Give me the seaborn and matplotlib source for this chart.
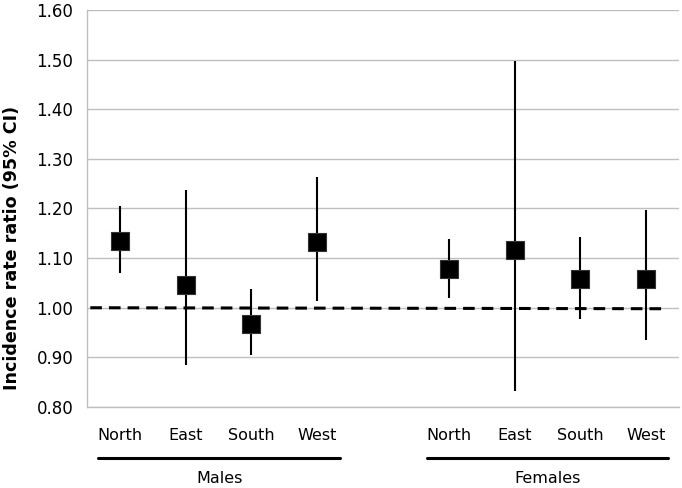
import numpy as np
import pandas as pd
import matplotlib
matplotlib.use("Agg")
import matplotlib.pyplot as plt
import matplotlib.transforms as mtransforms
import seaborn as sns

# ---- data ----
regions = ["North", "East", "South", "West"]
groups = ["Males", "Females"]
males_irr = [1.135, 1.045, 0.968, 1.133]
males_lo = [1.070, 0.885, 0.905, 1.014]
males_hi = [1.205, 1.237, 1.037, 1.264]
females_irr = [1.078, 1.117, 1.057, 1.057]
females_lo = [1.020, 0.833, 0.977, 0.934]
females_hi = [1.138, 1.498, 1.142, 1.197]
ref_value = 1.0
y_ticks = [0.80, 0.90, 1.00, 1.10, 1.20, 1.30, 1.40, 1.50, 1.60]

# positions: 4 male slots, one empty gap, 4 female slots
pos = list(range(4)) + list(range(5, 9))
df = pd.DataFrame({
    "pos": pos,
    "region": regions + regions,
    "group": ["Males"] * 4 + ["Females"] * 4,
    "irr": males_irr + females_irr,
    "lo": males_lo + females_lo,
    "hi": males_hi + females_hi,
})

sns.set_style("white")
plt.rcParams["font.family"] = ["DejaVu Sans"]
plt.rcParams["text.color"] = "black"
plt.rcParams["xtick.labelcolor"] = "black"
plt.rcParams["ytick.labelcolor"] = "black"
plt.rcParams["axes.labelcolor"] = "black"

fig = plt.figure(figsize=(6.82, 4.88), dpi=100)
ax = fig.add_axes([0.1276, 0.166, 0.868, 0.8135])

# gridlines
for yv in y_ticks:
    ax.axhline(yv, color="#bfbfbf", lw=1.0, zorder=0)

# CI lines
ax.vlines(df["pos"], df["lo"], df["hi"], color="black", lw=1.5, zorder=2)

# reference dashed line
ax.plot([-0.45, 8.33], [ref_value, ref_value - 0.002], color="black", lw=2.2,
        ls=(0, (3.8, 2.3)), zorder=3)

# markers
sns.scatterplot(data=df, x="pos", y="irr", marker="s", s=180, color="black",
                edgecolor="#333333", linewidth=0.8, zorder=4, ax=ax, legend=False)

ax.set_xlim(-0.5, 8.5)
ax.set_ylim(0.80, 1.60)
ax.set_yticks(y_ticks)
ax.set_yticklabels([f"{v:.2f}" for v in y_ticks], fontsize=12)
ax.tick_params(axis="y", length=6, color="#bfbfbf", width=1, pad=4,
               labelcolor="black")

ax.set_xticks(pos)
ax.set_xticklabels(df["region"], fontsize=11.5)
ax.set_xticks(np.arange(-0.5, 9.0, 1.0), minor=True)
ax.tick_params(axis="x", which="major", length=0, pad=15, labelcolor="black")
ax.tick_params(axis="x", which="minor", length=5, color="#bfbfbf", width=1)
ax.set_xlabel("")
ax.set_ylabel("Incidence rate ratio (95% CI)", fontsize=12.6, fontweight="bold",
              color="black")
ax.yaxis.set_label_coords(-0.111, 0.40)

for side in ["top", "right"]:
    ax.spines[side].set_visible(False)
for side in ["left", "bottom"]:
    ax.spines[side].set_color("#bfbfbf")
    ax.spines[side].set_linewidth(1.0)

# group lines and labels
trans = mtransforms.blended_transform_factory(ax.transData, ax.transAxes)
spans = [(-0.33, 3.35), (4.67, 8.33)]
for g, (x0, x1) in zip(groups, spans):
    ax.plot([x0, x1], [-0.128, -0.128], color="black", lw=2.2,
            transform=trans, clip_on=False)
    ax.text((x0 + x1) / 2, -0.181, g, transform=trans, ha="center", va="center",
            fontsize=11.5, color="black")

fig.savefig("out.png", dpi=100)
